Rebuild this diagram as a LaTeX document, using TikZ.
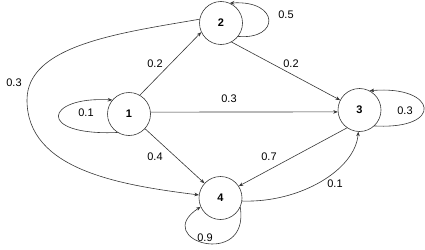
\documentclass[tikz,border=0pt]{standalone}
\usepackage{fontspec}
\setmainfont{Liberation Sans}
\usetikzlibrary{arrows.meta}
\definecolor{edgegray}{RGB}{55,55,55}
\tikzset{
    lab/.style={
        font=\fontsize{11}{13}\selectfont
    }
}

\begin{document}
\begin{tikzpicture}[x=1pt,y=-1pt, line cap=round, line join=round]

\tikzset{
  main/.style={draw=edgegray, line width=0.6pt, -{Stealth[length=4.5pt,width=3.6pt]}},
  stnode/.style={circle, draw=edgegray, line width=0.6pt, minimum size=43pt, inner sep=0pt, font=\fontsize{11}{13}\selectfont\bfseries},
}

\useasboundingbox (0,0) rectangle (425,249);

\coordinate (P1) at (129,114);
\coordinate (P2) at (221,23);
\coordinate (P3) at (359.5,110);
\coordinate (P4) at (220.5,198);
\coordinate (W) at (27,100);

% states
\node[stnode] (n1) at (P1) {1};
\node[stnode] (n2) at (P2) {2};
\node[stnode] (n3) at (P3) {3};
\node[stnode] (n4) at (P4) {4};

% straight transitions
\draw[main] (n1.60) -- (n2.205);
\draw[main] (n2.-61) -- (n3.153);
\draw[main] (n1.5) -- (n3.185);
\draw[main] (n1) -- (n4);
\draw[main] (n3.235) -- (n4.33);

% curved transitions
\draw[main] (n4.-8) .. controls (300,203) and (355,170) .. (n3.-93);
\draw[main] (n2.170) .. controls (120,33) and (27,45) .. (W)
  .. controls (27,170) and (120,185) .. (n4.172);

% self loops
\draw[main] (n1.-122) .. controls (35,136) and (45,96) .. (n1.140);
\draw[main] (n2.-38) .. controls (280,40) and (280,0) .. (n2.66);
\draw[main] (n3.-47) .. controls (445,130) and (437,85) .. (n3.62);
\draw[main] (n4.-25) .. controls (250,270) and (150,240) .. (n4.204);

% probabilities
\node[lab] (l12) at (155,64) {0.2};
\node[lab] (l23) at (291,64) {0.2};
\node[lab] (l13) at (229,99) {0.3};
\node[lab] (l14) at (155,157) {0.4};
\node[lab] (l34) at (269,157) {0.7};
\node[lab] (l43) at (335,184) {0.1};
\node[lab] (l24) at (14,83) {0.3};
\node[lab] (l11) at (86,113) {0.1};
\node[lab] (l22) at (286,15) {0.5};
\node[lab] (l33) at (405,111) {0.3};
\node[lab] (l44) at (205,238) {0.9};

\end{tikzpicture}
\end{document}
